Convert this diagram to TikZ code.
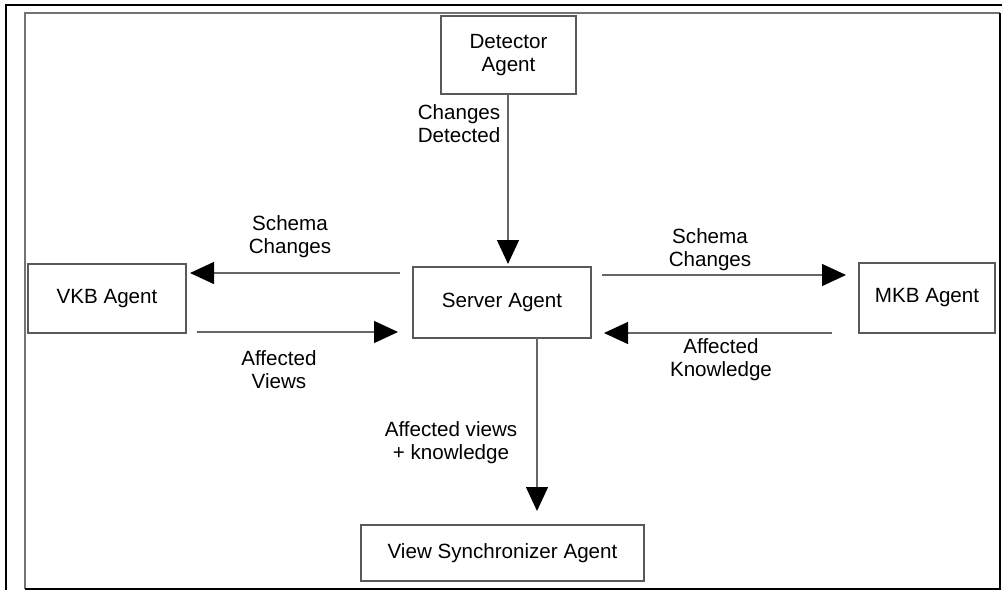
\documentclass[tikz,border=0pt]{standalone}
\usepackage{fontspec}
\setmainfont{Liberation Sans}
\usetikzlibrary{arrows.meta}
\begin{document}
\begin{tikzpicture}[x=0.5pt,y=-0.5pt,
  agent/.style={draw=black!65, line width=0.6pt, fill=white, inner sep=0pt, align=center},
  arr/.style={draw=black!60, line width=0.6pt, -{Triangle[length=12pt,width=11pt,fill=black,color=black]}},
  lbl/.style={align=center, inner sep=0pt},
  every node/.style={font=\fontsize{10.3}{11.6}\selectfont}]
\useasboundingbox (0,0) rectangle (1005,594);
% frame
\draw[black, line width=0.9pt] (6,590) -- (6,5) -- (1002,5);
\draw[black!55, line width=0.9pt] (25,589) -- (25,13) -- (1000,13);
\draw[black, line width=0.9pt] (25,589) -- (1000,589) -- (1000,13);
% boxes
\node[agent, minimum width=67.5pt, minimum height=39pt] (det) at (508.5,55) {Detector\\Agent};
\node[agent, minimum width=89pt, minimum height=35.5pt] (srv) at (502,302.5) {Server Agent};
\node[agent, minimum width=79pt, minimum height=34.5pt] (vkb) at (107,298.5) {VKB Agent};
\node[agent, minimum width=68pt, minimum height=35pt] (mkb) at (927,298) {MKB Agent};
\node[agent, minimum width=141.5pt, minimum height=28pt] (vsa) at (502.5,553) {View Synchronizer Agent};
% connector end points
\coordinate (detT) at (508,264);
\coordinate (lsS) at (400,273);
\coordinate (lsT) at (190,273);
\coordinate (avS) at (197,332);
\coordinate (avT) at (398,332);
\coordinate (rsS) at (602,275);
\coordinate (rsT) at (846,275);
\coordinate (akS) at (832,333);
\coordinate (akT) at (604,333);
\coordinate (dnS) at (537,338);
\coordinate (dnT) at (537,511);
% arrows
\draw[arr] (det.south -| detT) -- (detT);
\draw[arr] (lsS) -- (lsT);
\draw[arr] (avS) -- (avT);
\draw[arr] (rsS) -- (rsT);
\draw[arr] (akS) -- (akT);
\draw[arr] (dnS) -- (dnT);
% labels
\node[lbl] (l1) at (459,124) {Changes\\Detected};
\node[lbl] (l2) at (290,237) {Schema\\Changes};
\node[lbl] (l3) at (710,250) {Schema\\Changes};
\node[lbl] (l4) at (279,370) {Affected\\Views};
\node[lbl] (l5) at (721,360) {Affected\\Knowledge};
\node[lbl] (l6) at (451,443) {Affected views\\+ knowledge};
\end{tikzpicture}
\end{document}
